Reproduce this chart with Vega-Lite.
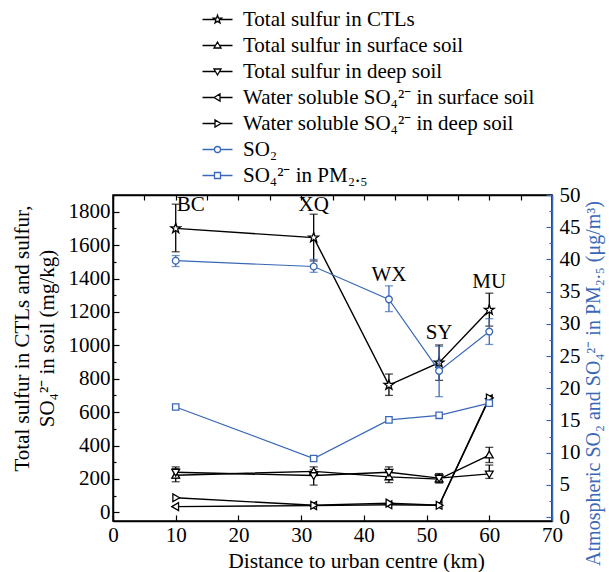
{
  "$schema": "https://vega.github.io/schema/vega-lite/v6.json",
  "width": 439,
  "height": 326,
  "autosize": {"type": "none"},
  "padding": {"left": 113, "top": 195, "right": 57, "bottom": 51},
  "config": {
    "font": "Liberation Serif",
    "text": {"font": "Liberation Serif"},
    "view": {"stroke": "black", "strokeWidth": 1.5},
    "axis": {"grid": false, "labelFlush": false, "labelFont": "Liberation Serif", "titleFont": "Liberation Serif", "labelFontSize": 21, "titleFontSize": 21, "titleFontWeight": "normal", "labelColor": "black", "titleColor": "black", "domainWidth": 1.5, "tickWidth": 1.2, "domainColor": "black", "tickColor": "black", "format": "d"},
    "legend": {"labelFont": "Liberation Serif", "labelFontSize": 21, "labelLimit": 0},
    "point": {"filled": false, "fill": "white", "fillOpacity": 1, "opacity": 1, "size": 50, "strokeWidth": 1.3}
  },
  "datasets": {
    "left": [
      {"series": "Total sulfur in CTLs", "x": 10, "y": 1700, "lo": 1560, "hi": 1845},
      {"series": "Total sulfur in CTLs", "x": 32, "y": 1645, "lo": 1505, "hi": 1785},
      {"series": "Total sulfur in CTLs", "x": 44, "y": 762, "lo": 700, "hi": 828},
      {"series": "Total sulfur in CTLs", "x": 52, "y": 896, "lo": 790, "hi": 1002},
      {"series": "Total sulfur in CTLs", "x": 60, "y": 1212, "lo": 1115, "hi": 1312},
      {"series": "Total sulfur in surface soil", "x": 10, "y": 222, "lo": 183, "hi": 262},
      {"series": "Total sulfur in surface soil", "x": 32, "y": 245, "lo": 220, "hi": 272},
      {"series": "Total sulfur in surface soil", "x": 44, "y": 212, "lo": 178, "hi": 246},
      {"series": "Total sulfur in surface soil", "x": 52, "y": 199, "lo": 175, "hi": 228},
      {"series": "Total sulfur in surface soil", "x": 60, "y": 343, "lo": 298, "hi": 389},
      {"series": "Total sulfur in deep soil", "x": 10, "y": 240, "lo": 205, "hi": 272},
      {"series": "Total sulfur in deep soil", "x": 32, "y": 220, "lo": 163, "hi": 255},
      {"series": "Total sulfur in deep soil", "x": 44, "y": 240, "lo": 205, "hi": 272},
      {"series": "Total sulfur in deep soil", "x": 52, "y": 205, "lo": 180, "hi": 232},
      {"series": "Total sulfur in deep soil", "x": 60, "y": 230, "lo": 203, "hi": 283},
      {"series": "Water soluble SO₄²⁻ in surface soil", "x": 10, "y": 34},
      {"series": "Water soluble SO₄²⁻ in surface soil", "x": 32, "y": 40},
      {"series": "Water soluble SO₄²⁻ in surface soil", "x": 44, "y": 45},
      {"series": "Water soluble SO₄²⁻ in surface soil", "x": 52, "y": 42},
      {"series": "Water soluble SO₄²⁻ in surface soil", "x": 60, "y": 680},
      {"series": "Water soluble SO₄²⁻ in deep soil", "x": 10, "y": 87},
      {"series": "Water soluble SO₄²⁻ in deep soil", "x": 32, "y": 42},
      {"series": "Water soluble SO₄²⁻ in deep soil", "x": 44, "y": 55},
      {"series": "Water soluble SO₄²⁻ in deep soil", "x": 52, "y": 42},
      {"series": "Water soluble SO₄²⁻ in deep soil", "x": 60, "y": 685}
    ],
    "right": [
      {"series": "SO₂", "x": 10, "y": 39.8, "lo": 38.9, "hi": 40.6},
      {"series": "SO₂", "x": 32, "y": 38.9, "lo": 38.0, "hi": 40.0},
      {"series": "SO₂", "x": 44, "y": 33.8, "lo": 31.9, "hi": 35.9},
      {"series": "SO₂", "x": 52, "y": 22.7, "lo": 18.7, "hi": 26.5},
      {"series": "SO₂", "x": 60, "y": 28.8, "lo": 26.8, "hi": 30.8},
      {"series": "SO₄²⁻ in PM₂.₅", "x": 10, "y": 17.1},
      {"series": "SO₄²⁻ in PM₂.₅", "x": 32, "y": 9.1},
      {"series": "SO₄²⁻ in PM₂.₅", "x": 44, "y": 15.1},
      {"series": "SO₄²⁻ in PM₂.₅", "x": 52, "y": 15.8},
      {"series": "SO₄²⁻ in PM₂.₅", "x": 60, "y": 17.7}
    ],
    "labels": [
      {"label": "BC", "x": 12.4, "y": 1840},
      {"label": "XQ", "x": 32, "y": 1841},
      {"label": "WX", "x": 44, "y": 1421},
      {"label": "SY", "x": 52, "y": 1074},
      {"label": "MU", "x": 60, "y": 1379}
    ]
  },
  "layer": [
    {
      "resolve": {"axis": {"x": "independent", "y": "independent"}},
      "layer": [
        {
          "data": {"name": "left"},
          "mark": {"type": "line", "color": "black", "strokeWidth": 1.4},
          "encoding": {
            "x": {"field": "x", "type": "quantitative", "scale": {"domain": [0, 70], "nice": false, "zero": false},
              "axis": {"orient": "bottom", "values": [0, 10, 20, 30, 40, 50, 60, 70], "tickSize": -6, "labelPadding": 9, "title": "Distance to urban centre (km)", "titlePadding": 5, "titleX": 243, "titleFontSize": 21.5}},
            "y": {"field": "y", "type": "quantitative", "scale": {"domain": [-52, 1900], "nice": false, "zero": false},
              "axis": {"orient": "left", "values": [0, 200, 400, 600, 800, 1000, 1200, 1400, 1600, 1800], "tickSize": -6, "labelPadding": 9,
                "title": ["Total sulfur in CTLs and sulfur,", "SO₄²⁻ in soil (mg/kg)"], "titlePadding": 11, "titleLineHeight": 25, "titleY": 143}},
            "detail": {"field": "series"}
          }
        },
        {
          "data": {"name": "left"},
          "mark": {"type": "errorbar", "color": "black", "thickness": 1.3, "ticks": {"size": 8}},
          "encoding": {
            "x": {"field": "x", "type": "quantitative", "axis": null},
            "y": {"field": "lo", "type": "quantitative", "axis": null},
            "y2": {"field": "hi"}
          }
        },
        {
          "data": {"name": "left"},
          "mark": {"type": "point", "filled": false, "opacity": 0, "size": 50},
          "encoding": {
            "x": {"field": "x", "type": "quantitative", "axis": null},
            "y": {"field": "y", "type": "quantitative", "axis": null},
            "color": {"field": "series", "type": "nominal",
              "scale": {"domain": ["Total sulfur in CTLs", "Total sulfur in surface soil", "Total sulfur in deep soil", "Water soluble SO₄²⁻ in surface soil", "Water soluble SO₄²⁻ in deep soil", "SO₂", "SO₄²⁻ in PM₂.₅"],
                "range": ["black", "black", "black", "black", "black", "#3a68b6", "#3a68b6"]},
              "legend": {"orient": "none", "legendX": 94, "legendY": -186, "title": null, "symbolSize": 100, "symbolStrokeWidth": 1.3, "symbolOpacity": 1, "labelOffset": 15, "rowPadding": 4, "labelFontSize": 21}},
            "shape": {"field": "series", "type": "nominal",
              "scale": {"domain": ["Total sulfur in CTLs", "Total sulfur in surface soil", "Total sulfur in deep soil", "Water soluble SO₄²⁻ in surface soil", "Water soluble SO₄²⁻ in deep soil", "SO₂", "SO₄²⁻ in PM₂.₅"],
                "range": ["M-3,0H-0.42M0.42,0H3M0,-0.85L0.2,-0.275L0.808,-0.263L0.323,0.105L0.5,0.688L0,0.34L-0.5,0.688L-0.323,0.105L-0.808,-0.263L-0.2,-0.275Z", "M-3,0H-0.41M0.41,0H3M0,-0.7L0.7,0.5L-0.7,0.5Z", "M-3,0H-0.41M0.41,0H3M0,0.7L0.7,-0.5L-0.7,-0.5Z", "M-3,0H-0.7M0.5,0H3M-0.7,0L0.5,-0.7L0.5,0.7Z", "M-3,0H-0.5M0.7,0H3M0.7,0L-0.5,-0.7L-0.5,0.7Z", "M-3,0H-0.6M0.6,0H3M0.6,0A0.6,0.6 0 1,1 -0.6,0A0.6,0.6 0 1,1 0.6,0Z", "M-3,0H-0.6M0.6,0H3M-0.6,-0.6H0.6V0.6H-0.6Z"]},
              "legend": {"orient": "none", "legendX": 94, "legendY": -186, "title": null, "symbolSize": 100, "symbolStrokeWidth": 1.3, "symbolOpacity": 1, "labelOffset": 15, "rowPadding": 4, "labelFontSize": 21}}
          }
        },
        {
          "data": {"name": "left"},
          "transform": [{"filter": {"field": "series", "equal": "Total sulfur in CTLs"}}],
          "mark": {"type": "point", "stroke": "black", "shape": "M0,-1.45L0.341,-0.469L1.379,-0.448L0.552,0.179L0.852,1.173L0,0.58L-0.852,1.173L-0.552,0.179L-1.379,-0.448L-0.341,-0.469Z"},
          "encoding": {
            "x": {"field": "x", "type": "quantitative", "axis": null},
            "y": {"field": "y", "type": "quantitative", "axis": null}
          }
        },
        {
          "data": {"name": "left"},
          "transform": [{"filter": {"field": "series", "equal": "Total sulfur in surface soil"}}],
          "mark": {"type": "point", "stroke": "black", "shape": "M0,-1.1L1.1,0.8L-1.1,0.8Z"},
          "encoding": {
            "x": {"field": "x", "type": "quantitative", "axis": null},
            "y": {"field": "y", "type": "quantitative", "axis": null}
          }
        },
        {
          "data": {"name": "left"},
          "transform": [{"filter": {"field": "series", "equal": "Total sulfur in deep soil"}}],
          "mark": {"type": "point", "stroke": "black", "shape": "M0,1.1L1.1,-0.8L-1.1,-0.8Z"},
          "encoding": {
            "x": {"field": "x", "type": "quantitative", "axis": null},
            "y": {"field": "y", "type": "quantitative", "axis": null}
          }
        },
        {
          "data": {"name": "left"},
          "transform": [{"filter": {"field": "series", "equal": "Water soluble SO₄²⁻ in surface soil"}}],
          "mark": {"type": "point", "stroke": "black", "shape": "M-1.1,0L0.8,-1.1L0.8,1.1Z"},
          "encoding": {
            "x": {"field": "x", "type": "quantitative", "axis": null},
            "y": {"field": "y", "type": "quantitative", "axis": null}
          }
        },
        {
          "data": {"name": "left"},
          "transform": [{"filter": {"field": "series", "equal": "Water soluble SO₄²⁻ in deep soil"}}],
          "mark": {"type": "point", "stroke": "black", "shape": "M1.1,0L-0.8,-1.1L-0.8,1.1Z"},
          "encoding": {
            "x": {"field": "x", "type": "quantitative", "axis": null},
            "y": {"field": "y", "type": "quantitative", "axis": null}
          }
        },
        {
          "data": {"name": "labels"},
          "mark": {"type": "text", "fontSize": 21, "font": "Liberation Serif", "color": "black", "baseline": "middle", "align": "center"},
          "encoding": {
            "x": {"field": "x", "type": "quantitative", "axis": {"orient": "top", "values": [0, 5, 10, 15, 20, 25, 30, 35, 40, 45, 50, 55, 60, 65, 70], "labels": false, "tickSize": -5, "title": null}},
            "y": {"field": "y", "type": "quantitative", "axis": {"orient": "left", "values": [100, 300, 500, 700, 900, 1100, 1300, 1500, 1700], "labels": false, "tickSize": -3, "domain": false, "title": null}},
            "text": {"field": "label"}
          }
        }
      ]
    },
    {
      "resolve": {"axis": {"y": "independent"}},
      "layer": [
        {
          "data": {"name": "right"},
          "mark": {"type": "line", "color": "#3a68b6", "strokeWidth": 1.2},
          "encoding": {
            "x": {"field": "x", "type": "quantitative", "axis": null},
            "y": {"field": "y", "type": "quantitative", "scale": {"domain": [-0.6, 50], "nice": false, "zero": false},
              "axis": {"orient": "right", "values": [0, 5, 10, 15, 20, 25, 30, 35, 40, 45, 50], "tickSize": -6, "labelPadding": 13,
                "domainColor": "#3a68b6", "tickColor": "#3a68b6", "labelColor": "black",
                "title": "Atmospheric SO₂ and SO₄²⁻ in PM₂.₅ (μg/m³)", "titleColor": "#3a68b6", "titleAngle": -90, "titleBaseline": "top", "titlePadding": 3, "titleFontSize": 20, "titleY": 188}},
            "detail": {"field": "series"}
          }
        },
        {
          "data": {"name": "right"},
          "mark": {"type": "errorbar", "color": "#3a68b6", "thickness": 1.3, "ticks": {"size": 8}},
          "encoding": {
            "x": {"field": "x", "type": "quantitative", "axis": null},
            "y": {"field": "lo", "type": "quantitative", "axis": null},
            "y2": {"field": "hi"}
          }
        },
        {
          "data": {"name": "right"},
          "transform": [{"filter": {"field": "series", "equal": "SO₂"}}],
          "mark": {"type": "point", "stroke": "#3a68b6", "shape": "M0.95,0A0.95,0.95 0 1,1 -0.95,0A0.95,0.95 0 1,1 0.95,0Z"},
          "encoding": {
            "x": {"field": "x", "type": "quantitative", "axis": null},
            "y": {"field": "y", "type": "quantitative", "axis": {"orient": "right", "values": [2.5, 7.5, 12.5, 17.5, 22.5, 27.5, 32.5, 37.5, 42.5, 47.5], "labels": false, "tickSize": -3, "domain": false, "tickColor": "#3a68b6", "title": null}}
          }
        },
        {
          "data": {"name": "right"},
          "transform": [{"filter": {"field": "series", "equal": "SO₄²⁻ in PM₂.₅"}}],
          "mark": {"type": "point", "stroke": "#3a68b6", "shape": "M-0.9,-0.9H0.9V0.9H-0.9Z"},
          "encoding": {
            "x": {"field": "x", "type": "quantitative", "axis": null},
            "y": {"field": "y", "type": "quantitative", "axis": null}
          }
        }
      ]
    }
  ],
  "resolve": {"scale": {"y": "independent"}}
}
